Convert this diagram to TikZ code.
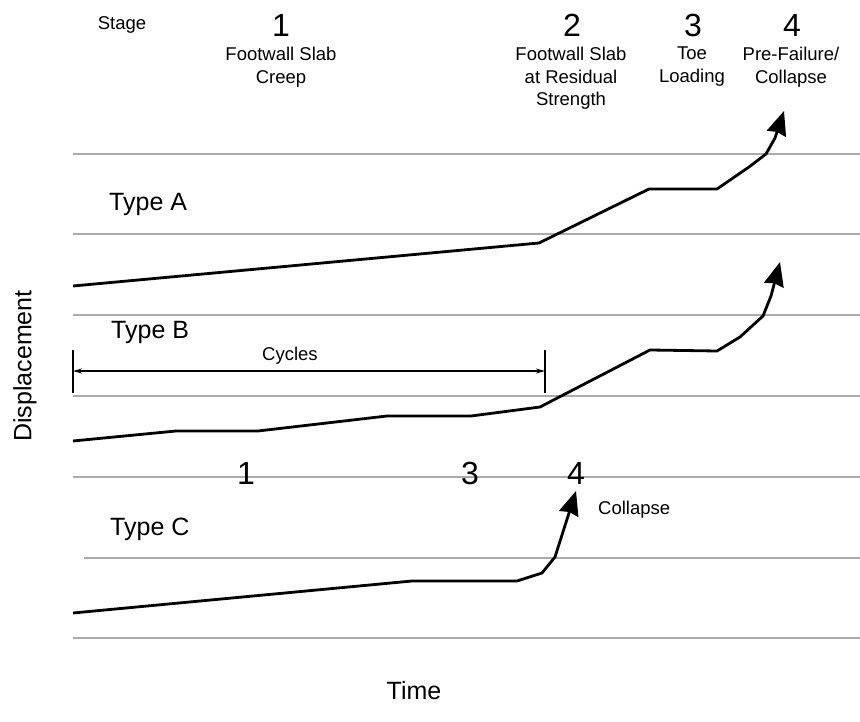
\documentclass[tikz,border=0pt]{standalone}
\usepackage{fontspec}
\setmainfont{Liberation Sans}
\usetikzlibrary{arrows.meta}
\begin{document}
\begin{tikzpicture}[x=1pt,y=-1pt,
  grid/.style={draw=black!33,line width=1.6pt},
  curve/.style={draw=black,line width=2.8pt,line join=round,
    -{Stealth[length=24pt,width=20pt,inset=2pt]}},
  dim/.style={draw=black,line width=1.3pt},
  bignum/.style={font=\fontsize{32}{36}\selectfont,inner sep=0pt},
  small/.style={font=\fontsize{18.5}{22.5}\selectfont,align=center,inner sep=0pt},
  typelbl/.style={font=\fontsize{25}{28}\selectfont,inner sep=0pt,anchor=west},
  axislbl/.style={font=\fontsize{25}{28}\selectfont,inner sep=0pt}]
\useasboundingbox (0,0) rectangle (860,722);
% gray grid lines
\foreach \yy/\xs in {154/73,234/73,315/73,396/73,477/73,558/84,638/73}
  \draw[grid] (\xs,\yy) -- (860,\yy);
% header
\node[small] (stage) at (122,25) {Stage};
\node[bignum] (s1) at (281,25) {1};
\node[bignum] (s2) at (572,25) {2};
\node[bignum] (s3) at (693,25) {3};
\node[bignum] (s4) at (792,25) {4};
\node[small,anchor=north] (d1) at (281,47) {Footwall Slab\\Creep};
\node[small,anchor=north] (d2) at (571,47) {Footwall Slab\\at Residual\\Strength};
\node[small,anchor=north] (d3) at (692,47) {Toe\\Loading};
\node[small,anchor=north] (d4) at (791,47) {Pre-Failure/\\Collapse};
% type labels
\node[typelbl] (ta) at (109,204) {Type A};
\node[typelbl] (tb) at (111,332) {Type B};
\node[typelbl] (tc) at (110,529) {Type C};
% Type A curve
\coordinate (a0) at (73,286);
\coordinate (a1) at (539,243);
\coordinate (a2) at (649,189);
\coordinate (a3) at (717,189);
\coordinate (a4) at (749,167);
\coordinate (a5) at (766,154);
\coordinate (a6) at (775,138);
\coordinate (a7) at (784,111);
\draw[curve] (a0) -- (a1) -- (a2) -- (a3) -- (a4) -- (a5) -- (a6) -- (a7);
% Type B curve
\coordinate (b0) at (73,441);
\coordinate (b1) at (176,431);
\coordinate (b2) at (258,431);
\coordinate (b3) at (387,416);
\coordinate (b4) at (471,416);
\coordinate (b5) at (540,407);
\coordinate (b6) at (650,350);
\coordinate (b7) at (717,351);
\coordinate (b8) at (740,337);
\coordinate (b9) at (763,316);
\coordinate (b10) at (771,296);
\coordinate (b11) at (780,262);
\draw[curve] (b0) -- (b1) -- (b2) -- (b3) -- (b4) -- (b5) -- (b6) -- (b7) -- (b8) -- (b9) -- (b10) -- (b11);
% Type C curve
\coordinate (c0) at (73,613);
\coordinate (c1) at (412,581);
\coordinate (c2) at (517,581);
\coordinate (c3) at (542,573);
\coordinate (c4) at (555,557);
\coordinate (c5) at (576,491);
\draw[curve] (c0) -- (c1) -- (c2) -- (c3) -- (c4) -- (c5);
% Cycles dimension
\coordinate (cyl) at (73,371);
\coordinate (cyr) at (545,371);
\draw[dim] (73,350) -- (73,393);
\draw[dim] (545,350) -- (545,393);
\draw[dim,{Stealth[length=9pt,width=5pt]}-{Stealth[length=9pt,width=5pt]}] (cyl) -- (cyr);
\node[small] (cycles) at (290,356) {Cycles};
% Type C stage numbers
\node[bignum] (n1) at (246,473) {1};
\node[bignum] (n3) at (470,473) {3};
\node[bignum] (n4) at (576,473) {4};
\node[small,anchor=west] (coll) at (598,510) {Collapse};
% axis labels
\node[axislbl,rotate=90] (disp) at (25,366) {Displacement};
\node[axislbl] (time) at (414,691) {Time};
\end{tikzpicture}
\end{document}
